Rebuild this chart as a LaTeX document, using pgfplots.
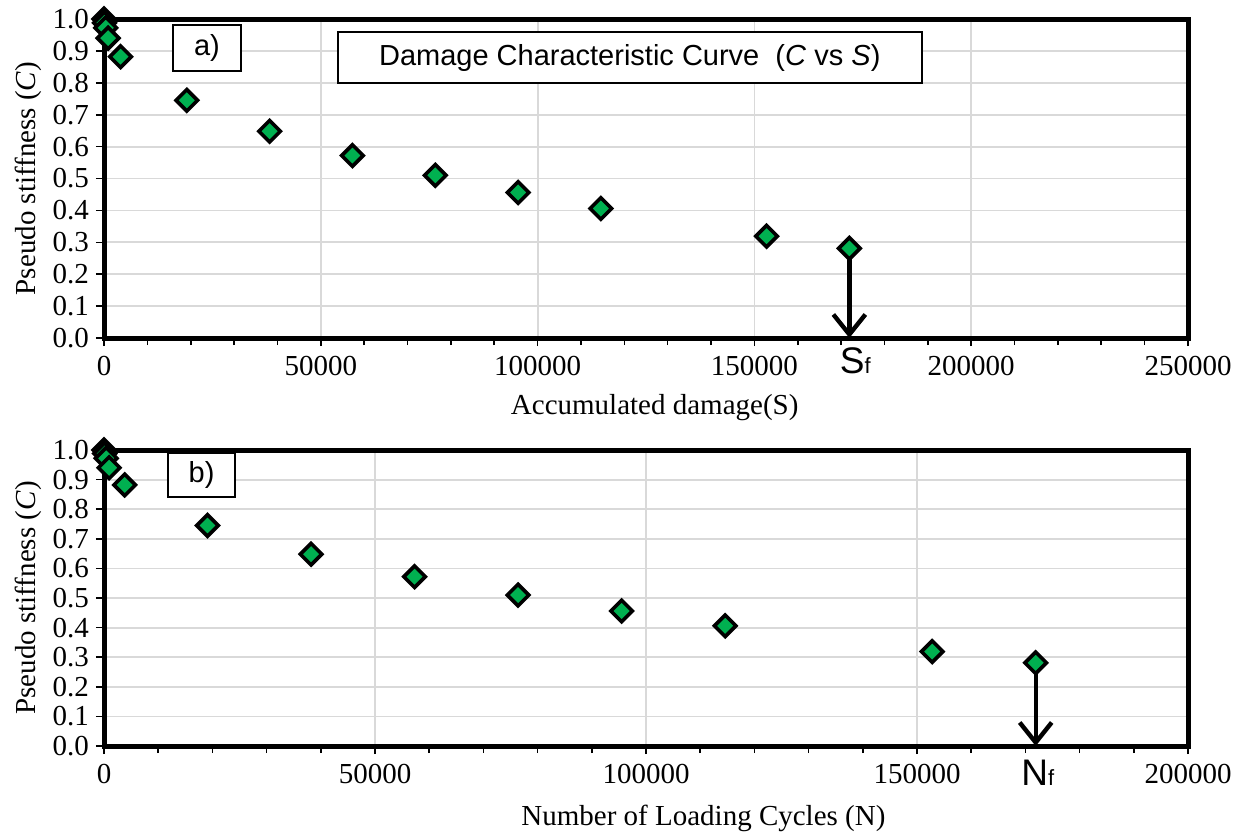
\documentclass[border=0pt]{standalone}
\usepackage{pgfplots}
\pgfplotsset{compat=1.18}
\usepackage{pgfplotstable}
\usepackage{fontspec}
\setmainfont{Liberation Serif}
\newfontfamily\sansf{Liberation Sans}
\usetikzlibrary{arrows.meta}

\definecolor{markgreen}{RGB}{0,176,80}
\definecolor{gridgray}{RGB}{217,217,217}

% pseudo stiffness C against accumulated damage S / loading cycles N
\pgfplotstableread{
X C
0 1.000
120 0.988
400 0.972
950 0.940
3820 0.882
19100 0.745
38200 0.648
57300 0.572
76400 0.510
95500 0.456
114600 0.406
152800 0.319
171900 0.281
}\damagedata

\pgfplotsset{
  dcstyle/.style={
    scale only axis,
    width=542pt,
    xmin=0, ymin=0, ymax=1,
    clip=false,
    ytick={0,0.1,0.2,0.3,0.4,0.5,0.6,0.7,0.8,0.9,1.0},
    minor x tick num=4,
    xtick pos=lower, ytick pos=left,
    tick align=outside,
    major tick length=4pt, minor tick length=3.5pt,
    every tick/.style={black, line width=0.8pt},
    axis line style={line width=2.5pt},
    grid=major,
    major grid style={gridgray, line width=0.9pt},
    scaled x ticks=false,
    /pgf/number format/assume math mode=true,
    tick label style={font=\fontsize{14.5}{16}\selectfont},
    yticklabel style={/pgf/number format/.cd, fixed, fixed zerofill, precision=1},
    xticklabel style={yshift=-1.5pt, /pgf/number format/.cd, fixed, precision=0, set thousands separator={}},
    label style={font=\fontsize{14.5}{17}\selectfont},
    ylabel={Pseudo stiffness (\textit{C})},
    ylabel style={at={(axis description cs:-0.070,0.5)}, anchor=center},
  },
  dcmarks/.style={only marks, mark=square*, mark size=3.8pt,
    mark options={rotate=45, fill=markgreen, draw=black, line width=1.8pt}},
}

\begin{document}
\begin{tikzpicture}[x=1pt,y=1pt]
\path[use as bounding box] (0,0) rectangle (621,-417.5);

% (a) damage characteristic curve
\begin{axis}[dcstyle,
  at={(52pt,-169pt)}, anchor=south west,
  height=159.5pt,
  xmax=250000, xtick={0,50000,100000,150000,200000,250000},
  xlabel={Accumulated damage(S)},
  xlabel style={at={(axis description cs:0.508,-0.219)}, anchor=center},
]
\addplot[dcmarks] table[x=X, y=C] {\damagedata};
\draw[line width=2.2pt, -{Straight Barb[length=10pt,width=16pt,line width=2.2pt]}]
  (axis cs:171900,0.281) -- (axis cs:171900,0);
\node[anchor=north, inner sep=0pt, font=\sansf\fontsize{18.5}{20}\selectfont,
  xshift=3pt, yshift=-4.5pt] at (axis cs:171900,0) {S{\fontsize{11}{12}\selectfont f}};
\node[draw, fill=white, line width=0.8pt, minimum width=292pt, minimum height=25.5pt,
  font=\sansf\fontsize{14.5}{17}\selectfont] at (axis description cs:0.485,0.879)
  {Damage Characteristic Curve \ (\textit{C} vs \textit{S})};
\node[draw, fill=white, line width=0.8pt, minimum width=34pt, minimum height=23pt,
  font=\sansf\fontsize{14.5}{17}\selectfont] at (axis description cs:0.095,0.909) {a)};
\end{axis}

% (b) against number of loading cycles
\begin{axis}[dcstyle,
  at={(52pt,-373pt)}, anchor=south west,
  height=148pt,
  xmax=200000, xtick={0,50000,100000,150000,200000},
  xlabel={Number of Loading Cycles (N)},
  xlabel style={at={(axis description cs:0.553,-0.243)}, anchor=center},
]
\addplot[dcmarks] table[x=X, y=C] {\damagedata};
\draw[line width=2.2pt, -{Straight Barb[length=10pt,width=16pt,line width=2.2pt]}]
  (axis cs:171900,0.281) -- (axis cs:171900,0);
\node[anchor=north, inner sep=0pt, font=\sansf\fontsize{18.5}{20}\selectfont,
  xshift=1pt, yshift=-7pt] at (axis cs:171900,0) {N{\fontsize{11}{12}\selectfont f}};
\node[draw, fill=white, line width=0.8pt, minimum width=33.5pt, minimum height=22pt,
  font=\sansf\fontsize{14.5}{17}\selectfont] at (axis description cs:0.090,0.916) {b)};
\end{axis}
\end{tikzpicture}
\end{document}
